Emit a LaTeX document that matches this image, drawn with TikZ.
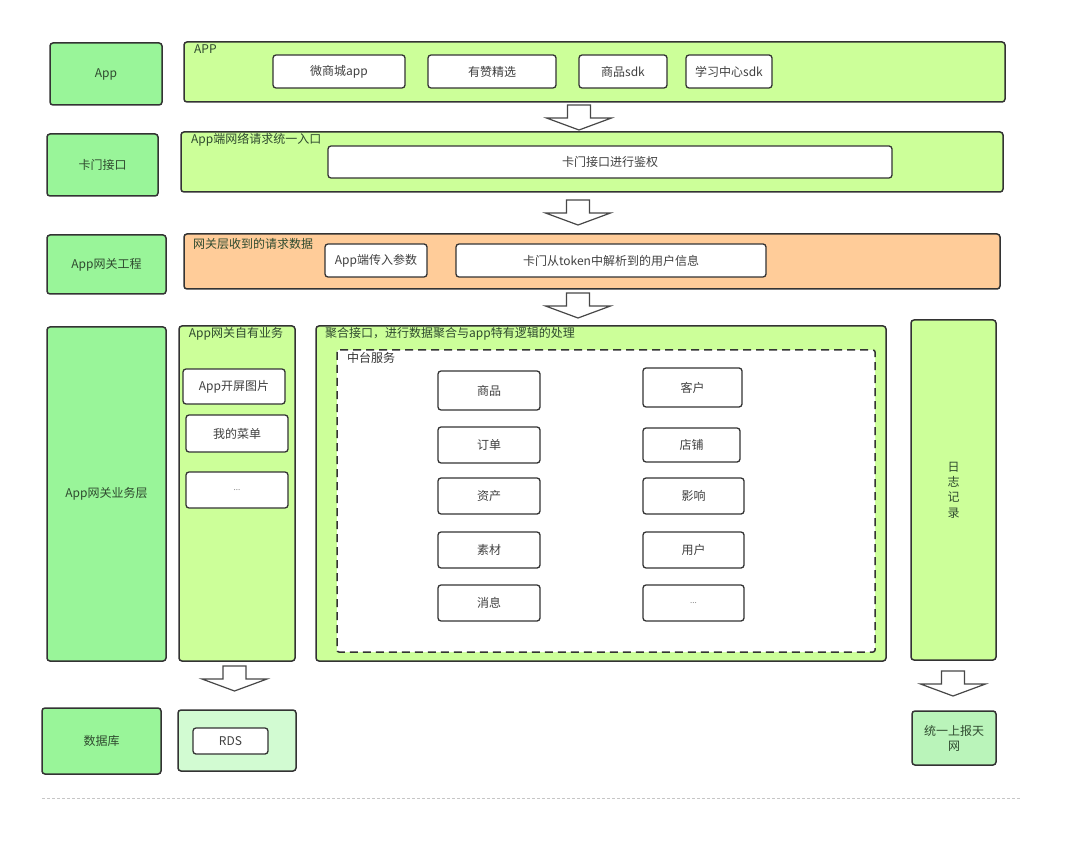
\documentclass[tikz,border=0pt]{standalone}
\usepackage{fontspec}
\setmainfont{Noto Sans CJK SC}
\usetikzlibrary{positioning}

\definecolor{layergreen}{HTML}{99F599}
\definecolor{panelgreen}{HTML}{CCFF99}
\definecolor{panelorange}{HTML}{FFCC99}
\definecolor{rdsgreen}{HTML}{D2FBD2}
\definecolor{skygreen}{HTML}{BAF4BA}
\definecolor{boxline}{HTML}{333333}
\definecolor{labeltext}{HTML}{2F4A2F}
\definecolor{itemtext}{HTML}{404040}

\begin{document}
\begin{tikzpicture}[
		x=1pt, y=-1pt,
		every node/.style={
			font=\fontsize{12}{15}\selectfont,
			align=center,
			inner sep=2pt
		},
		wh/.style 2 args={minimum width=#1pt, minimum height=#2pt},
		layer/.style={draw=boxline, fill=layergreen, rounded corners=3pt, line width=1.5pt, text=labeltext},
		panel/.style={draw=boxline, fill=panelgreen, rounded corners=3pt, line width=1.5pt, text=labeltext},
		item/.style={draw=boxline, fill=white, rounded corners=3pt, line width=1.3pt, text=itemtext},
		caption/.style={anchor=west, inner sep=0pt, text=labeltext},
		dots/.style={font=\fontsize{8}{9}\selectfont, text=gray},
		blockdown/.pic={
			\draw[draw=boxline!90, fill=white, line width=1.2pt, line join=miter]
			(-11.5,0) -- (11.5,0) -- (11.5,13) -- (32.5,13) -- (0,25)
			-- (-32.5,13) -- (-11.5,13) -- cycle;
		}
		]
		
		\useasboundingbox (0,0) rectangle (1076,866);
		
		%--------------------------------------------------
		% Layers (left column)
		%--------------------------------------------------
		
		\node (lapp) [layer, wh={112}{62}] at (106,74) {App};
		\node (lkamen) [layer, wh={111}{62}] at (102.5,165) {卡门接口};
		\node (lgw) [layer, wh={119}{59}] at (106.5,264.5) {App网关工程};
		\node (lbiz) [layer, wh={119}{334}] at (106.5,494) {App网关业务层};
		\node (ldb) [layer, wh={119}{66}] at (101.5,741) {数据库};
		
		%--------------------------------------------------
		% APP
		%--------------------------------------------------
		
		\node (papp) [panel, wh={821}{60}] at (594.5,72) {};
		\node (capp) [caption] at (194,49) {APP};
		\node (weishang) [item, wh={132}{33}] at (339,71.5) {微商城app};
		\node (youzan) [item, wh={128}{33}] at (492,71.5) {有赞精选};
		\node (spsdk) [item, wh={88}{33}] at (623,71.5) {商品sdk};
		\node (xxsdk) [item, wh={86}{33}] at (729,71.5) {学习中心sdk};
		
		\pic at (579,105) {blockdown};
		
		%--------------------------------------------------
		% Kamen
		%--------------------------------------------------
		
		\node (pkamen) [panel, wh={822}{60}] at (592,162) {};
		\node (ckamen) [caption] at (191,140) {App端网络请求统一入口};
		\node (auth) [item, wh={564}{32}] at (610,162) {卡门接口进行鉴权};
		
		\pic at (578,200) {blockdown};
		
		%--------------------------------------------------
		% Gateway
		%--------------------------------------------------
		
		\node (pgw) [panel, fill=panelorange, wh={816}{55}] at (592,261.5) {};
		\node (cgw) [caption] at (193,244) {网关层收到的请求数据};
		\node (params) [item, wh={102}{33}] at (376,260.5) {App端传入参数};
		\node (userinfo) [item, wh={310}{33}] at (611,260.5) {卡门从token中解析到的用户信息};
		
		\pic at (578,293) {blockdown};
		
		%--------------------------------------------------
		% Business layer
		%--------------------------------------------------
		
		\node (pown) [panel, wh={116}{335}] at (237,493.5) {};
		\node (cown) [caption, anchor=center] at (236,334) {App网关自有业务};
		\node (splash) [item, wh={102}{35}] at (234,386.5) {App开屏图片};
		\node (menu) [item, wh={102}{37}] at (237,433.5) {我的菜单};
		\node (ownmore) [item, dots, wh={102}{36}] at (237,490) {...};
		
		\node (pagg) [panel, wh={570}{335}] at (601,493.5) {};
		\node (cagg) [caption] at (325,334) {聚合接口，进行数据聚合与app特有逻辑的处理};
		
		\draw[boxline, fill=white, line width=1.5pt, dash pattern=on 8pt off 5pt, rounded corners=2pt]
		(337,350) rectangle (875,652);
		\node (czt) [caption, text=itemtext!80!black] at (347,358) {中台服务};
		
		\node (goods) [item, wh={102}{39}] at (489,390.5) {商品};
		\node (order) [item, wh={102}{36}] at (489,445) {订单};
		\node (asset) [item, wh={102}{36}] at (489,496) {资产};
		\node (material) [item, wh={102}{36}] at (489,550) {素材};
		\node (message) [item, wh={102}{36}] at (489,603) {消息};
		
		\node (customer) [item, wh={99}{39}] at (692.5,387.5) {客户};
		\node (shop) [item, wh={97}{34}] at (691.5,445) {店铺};
		\node (influence) [item, wh={101}{36}] at (693.5,496) {影响};
		\node (user) [item, wh={101}{36}] at (693.5,550) {用户};
		\node (ztmore) [item, dots, wh={101}{36}] at (693.5,603) {...};
		
		\node (plog) [panel, wh={85}{340}, font=\fontsize{12}{15.3}\selectfont] at (953.5,490) {日\\志\\记\\录};
		
		\pic at (234.5,666) {blockdown};
		\pic at (953,671) {blockdown};
		
		%--------------------------------------------------
		% Storage / report
		%--------------------------------------------------
		
		\node (prds) [panel, fill=rdsgreen, wh={118}{61}] at (237,740.5) {};
		\node (rds) [item, wh={75}{26}] at (230.5,741) {RDS};
		\node (tianwang) [layer, fill=skygreen, wh={84}{54}] at (954,738) {统一上报天\\网};
		
		\draw[gray!45, line width=0.8pt, dash pattern=on 3pt off 2pt] (42,798) -- (1020,798);
		
	\end{tikzpicture}
\end{document}
